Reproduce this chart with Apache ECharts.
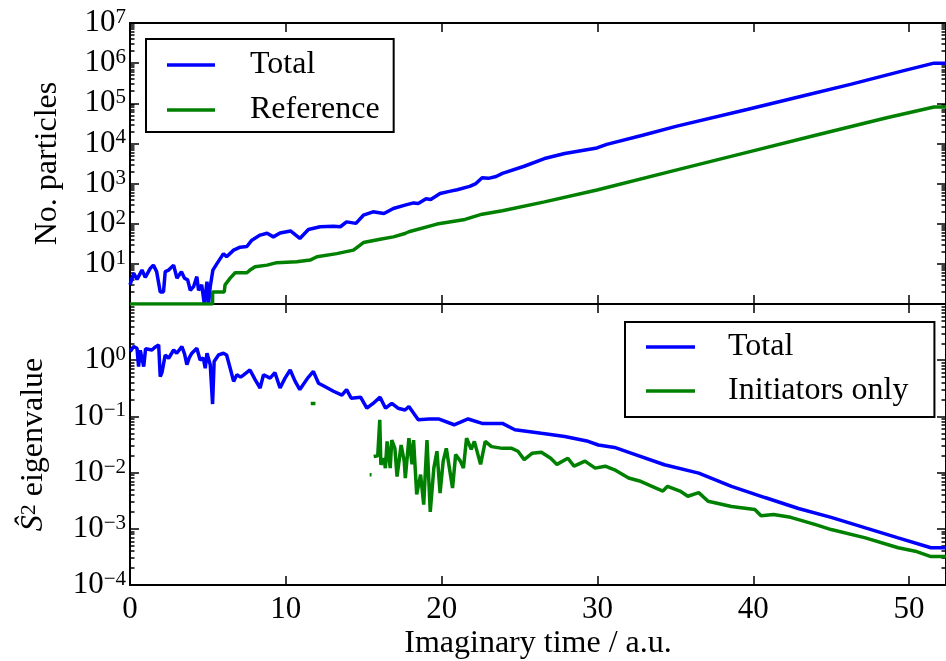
<!DOCTYPE html>
<html><head><meta charset="utf-8">
<script src="https://cdn.jsdelivr.net/npm/echarts@6/dist/echarts.min.js"></script>
<style>html,body{margin:0;padding:0;background:#fff}#c{width:946px;height:661px}</style>
</head><body><div id="c"></div>
<script>
// ---- Data ----
const tTotalN = [0,0.24,0.45,0.77,0.98,1.3,1.5,1.71,1.94,2.15,2.26,2.48,2.8,3.01,3.3,3.5,3.7,3.87,4.08,4.29,4.4,4.6,4.77,4.94,5.04,5.15,5.32,5.57,6.0,6.2,6.65,7.07,7.5,7.82,8.35,8.8,9.2,9.63,10.3,10.9,11.45,12.2,13.06,13.5,13.9,14.5,14.98,15.6,16.3,16.9,17.65,18.2,18.5,19.0,19.3,19.9,20.5,21.0,21.8,22.2,22.6,23.0,23.5,23.9,25.3,26.6,27.9,29.97,30.6,32.9,35.1,39.6,43.1,46.3,49.6,51.6,52.4];
const totalN  = [3.0,5.8,4.1,7,4.6,7.7,9.3,6.4,2.0,2.0,6.4,7,9.3,4.4,6.4,4.4,4,2.2,2.7,4.8,2.2,3,1,3.6,1,2.7,7,10,18,15,22,26,27,39,52,58,47,59,66,43,72,84,87,84,111,102,163,198,180,240,290,330,320,420,400,565,640,700,850,1000,1400,1350,1500,1790,2700,4200,5600,7700,9500,16000,27000,70000,150000,300000,640000,1000000,1000000];

const tRefN = [0,5.3,5.3,6.05,6.1,6.43,6.75,7.5,7.7,8.03,8.8,9.42,10.7,11.56,12.0,13.27,14.34,14.98,16.05,16.9,17.65,17.9,19.7,21.5,22.6,23.9,26.6,29.97,35.1,39.6,44.0,48.5,51.6,52.4];
const refN  = [1,1,2,2,3,4.4,6,6,7,8.5,9.3,10.7,11.3,12.4,15,18,22,34,41,47,57,63,98,128,173,210,350,690,2200,6000,16000,43000,81000,81000];

const tTotalS = [0.02,0.23,0.45,0.55,0.66,0.77,0.88,1.0,1.09,1.41,1.6,1.84,1.94,2.05,2.15,2.26,2.48,2.8,3.0,3.33,3.5,3.65,3.8,3.97,4.29,4.5,4.7,4.83,4.94,5.15,5.3,5.4,5.68,6.0,6.2,6.43,6.65,6.86,7.1,7.3,7.7,8.03,8.35,8.57,8.99,9.3,9.63,9.95,10.28,10.6,10.9,11.4,11.77,12.1,12.5,13.06,13.6,13.9,14.2,14.8,15.2,15.6,16.05,16.4,16.8,17.2,17.65,17.9,18.5,19.2,19.8,20.8,21.7,22.6,23.9,24.7,26.4,27.9,29.4,30.06,31.1,32.2,34.3,36.5,38.6,40.75,42.9,45.0,47.2,49.3,51.4,52.4];
const totalS  = [1.43,1.75,1.63,0.77,1.5,1.43,0.77,1.6,1.63,1.52,1.7,1.87,0.51,0.6,0.63,1.24,1.08,1.52,1.33,1.75,1.3,0.83,1.1,1.33,1.63,1.01,1.1,0.72,1.33,0.83,0.166,0.95,1.24,1.33,1.24,0.72,0.42,0.55,0.5,0.55,0.67,0.45,0.32,0.55,0.48,0.6,0.32,0.48,0.67,0.42,0.30,0.48,0.63,0.39,0.34,0.28,0.24,0.30,0.21,0.22,0.14,0.17,0.22,0.14,0.17,0.14,0.13,0.15,0.087,0.09,0.09,0.071,0.09,0.075,0.075,0.058,0.050,0.044,0.036,0.031,0.028,0.022,0.0138,0.0098,0.0057,0.0036,0.0023,0.0016,0.00104,0.00069,0.00046,0.00046];

const tInitS = [11.6,11.9,11.95,15.38,15.5,15.55,15.64,15.9,16.03,16.1,16.3,16.39,16.5,16.7,16.8,17.0,17.14,17.4,17.6,17.67,17.9,18.1,18.2,18.4,18.65,18.85,19.06,19.27,19.5,19.7,19.9,20.1,20.3,20.7,20.9,21.2,21.4,21.6,21.9,22.1,22.5,22.8,23.2,23.9,24.5,24.9,25.3,25.8,26.4,27.0,27.4,28.1,28.5,29.2,29.85,30.5,31.1,32.0,32.7,33.5,34.2,34.5,35.3,35.8,36.5,37.1,38.6,40.1,40.5,41.3,42.4,43.95,45.0,47.2,49.3,50.4,51.4,52.4];
const initS  = [0.17,0.17,null,0.0092,0.0092,null,0.0194,0.02,0.087,0.0138,0.018,0.012,0.036,0.012,0.038,0.027,0.0085,0.031,0.016,0.008,0.041,0.014,0.038,0.0041,0.0092,0.0027,0.038,0.0020,0.012,0.024,0.0043,0.016,0.027,0.0053,0.021,0.016,0.012,0.041,0.026,0.036,0.014,0.036,0.029,0.027,0.027,0.024,0.017,0.022,0.023,0.018,0.014,0.018,0.013,0.016,0.012,0.013,0.0112,0.0080,0.0071,0.0057,0.0047,0.0057,0.0047,0.0038,0.0044,0.0031,0.0025,0.0022,0.0017,0.0018,0.0016,0.0012,0.00097,0.00069,0.00046,0.0004,0.00032,0.00032];

const xTicks = [0,10,20,30,40,50];
const topMajor = [1,10,100,1e3,1e4,1e5,1e6,1e7];
const topLabels = [10,100,1e3,1e4,1e5,1e6,1e7];
const botMajor = [1e-4,1e-3,1e-2,1e-1,1,10];
const botLabels = [1e-4,1e-3,1e-2,1e-1,1];

const seriesNames = ['Total','Reference','Total','Initiators only'];
const BLUE = '#0000ff', GREEN = '#008000';
const FONT = 'Liberation Serif';
const FS = 31;
const LFS = 32;

function minorOf(majors){
  const out = [];
  for (let i = 0; i < majors.length - 1; i++) for (let k = 2; k <= 9; k++) out.push(majors[i]*k);
  return out;
}
function pairs(t, v){ return t.map((x,i)=>[x, v[i]]); }
function logLabel(v){
  const e = Math.round(Math.log10(v));
  return '{b|10}{e|' + (e < 0 ? '\u2212' + (-e) : String(e)) + '}';
}

const XMAX = 52.37;
const lineStyle = {color:'#000', width:2};
function xAx(grid, pos, labels){
  return {type:'value', gridIndex:grid, position:pos, min:0, max:XMAX, interval:10,
    axisLine:{show:true, onZero:false, lineStyle},
    axisTick:{show:true, inside:true, length:9, lineStyle:{color:'#000', width:1.5}},
    axisLabel:{show:labels, showMaxLabel:false, margin:9, color:'#000', fontFamily:FONT, fontSize:FS},
    splitLine:{show:false},
    name: labels ? 'Imaginary time / a.u.' : '', nameLocation:'middle', nameGap:43,
    nameTextStyle:{color:'#000', fontFamily:FONT, fontSize:LFS}
  };
}
const rich = {b:{fontFamily:FONT, fontSize:FS, color:'#000', lineHeight:32},
              e:{fontFamily:FONT, fontSize:21, color:'#000', lineHeight:16, verticalAlign:'top'}};
function yAx(grid, pos, min, max, ticks, labels, len, name, nameGap, nameRich){
  return {type:'log', logBase:10, gridIndex:grid, position:pos, min, max,
    axisLine:{show:true, onZero:false, lineStyle},
    axisTick:{show:true, inside:true, length:len, customValues:ticks, lineStyle:{color:'#000', width:1.5}},
    axisLabel: labels ? {show:true, customValues:labels, formatter:logLabel, rich, margin:4} : {show:false},
    splitLine:{show:false}, minorTick:{show:false},
    name: name || '', nameLocation:'middle', nameGap: nameGap || 0, nameRotate:90,
    nameTextStyle: nameRich ? {color:'#000', fontFamily:FONT, fontSize:LFS, rich:nameRich} : {color:'#000', fontFamily:FONT, fontSize:LFS}
  };
}
const s2Rich = {
  s:{fontFamily:FONT, fontSize:LFS, fontStyle:'italic', color:'#000', lineHeight:32},
  p:{fontFamily:FONT, fontSize:22, color:'#000', lineHeight:16, verticalAlign:'top'},
  n:{fontFamily:FONT, fontSize:LFS, color:'#000', lineHeight:32}
};

const option = {
  animation:false,
  backgroundColor:'#fff',
  grid:[{left:130, top:23, width:817, height:281},{left:130, top:304, width:817, height:283}],
  xAxis:[xAx(0,'bottom',false), xAx(0,'top',false), xAx(1,'bottom',true), xAx(1,'top',false)],
  yAxis:[
    yAx(0,'left',1,1e7,topMajor,topLabels,9,'No. particles',66),
    yAx(0,'left',1,1e7,minorOf(topMajor),null,4.5),
    yAx(0,'right',1,1e7,topMajor,null,9),
    yAx(0,'right',1,1e7,minorOf(topMajor),null,4.5),
    yAx(1,'left',1e-4,10,botMajor,botLabels,9,'{s|\u015C}{p|2}{n| eigenvalue}',80,s2Rich),
    yAx(1,'left',1e-4,10,minorOf(botMajor),null,4.5),
    yAx(1,'right',1e-4,10,botMajor,null,9),
    yAx(1,'right',1e-4,10,minorOf(botMajor),null,4.5)
  ],
  legend:[
    {orient:'vertical', left:146, top:39, data:[seriesNames[0], seriesNames[1]],
     icon:'rect', itemWidth:48, itemHeight:3.5, itemGap:13,
     padding:[10,14,6,21], borderColor:'#000', borderWidth:2, borderRadius:0, backgroundColor:'#fff',
     textStyle:{fontFamily:FONT, fontSize:LFS, color:'#000', lineHeight:32, padding:[0,0,0,30]},
     selectedMode:false},
    {orient:'vertical', left:625, top:322, data:[seriesNames[2], seriesNames[3]],
     icon:'rect', itemWidth:49, itemHeight:3.5, itemGap:12,
     padding:[9,26,10,21], borderColor:'#000', borderWidth:2, borderRadius:0, backgroundColor:'#fff',
     textStyle:{fontFamily:FONT, fontSize:LFS, color:'#000', lineHeight:32, padding:[0,0,0,28]},
     selectedMode:false}
  ],
  series:[
    {name:seriesNames[0], type:'line', xAxisIndex:0, yAxisIndex:0, data:pairs(tTotalN,totalN), showSymbol:false, color:BLUE, lineStyle:{color:BLUE, width:3.5}, z:2},
    {name:seriesNames[1], type:'line', xAxisIndex:0, yAxisIndex:0, data:pairs(tRefN,refN), showSymbol:false, color:GREEN, lineStyle:{color:GREEN, width:3.5}, z:3},
    {name:seriesNames[2], type:'line', xAxisIndex:2, yAxisIndex:4, data:pairs(tTotalS,totalS), showSymbol:false, color:BLUE, lineStyle:{color:BLUE, width:3.5}, z:2},
    {name:seriesNames[3], type:'line', xAxisIndex:2, yAxisIndex:4, data:pairs(tInitS,initS), showSymbol:false, connectNulls:false, color:GREEN, lineStyle:{color:GREEN, width:3.5}, z:3}
  ]
};
const chart = echarts.init(document.getElementById('c'), null, {renderer:'canvas'});
chart.setOption(option);
</script></body></html>
